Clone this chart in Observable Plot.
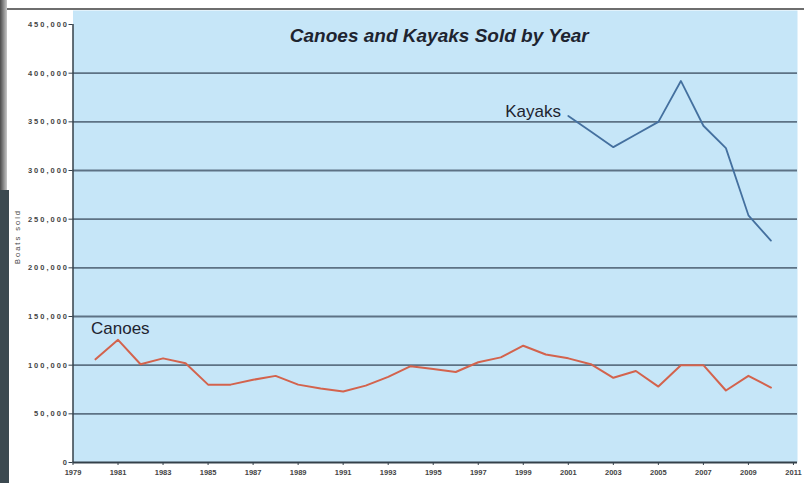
<!DOCTYPE html>
<html>
<head>
<meta charset="utf-8">
<script src="https://cdn.jsdelivr.net/npm/d3@7"></script>
<script src="https://cdn.jsdelivr.net/npm/@observablehq/plot@0.6"></script>
<style>
  body { margin: 0; background: #ffffff; }
  #wrap { position: relative; width: 804px; height: 483px; overflow: hidden; font-family: "Liberation Sans", Arial, sans-serif; }
  #wrap svg { position: absolute; left: 0; top: 0; background: transparent; }
  #wrap svg g[aria-label="y-axis tick label"] text { letter-spacing: 2px; font-weight: bold; }
  #wrap svg g[aria-label="x-axis tick label"] text { font-weight: bold; }
  #wrap svg g[aria-label="y-axis label"] text { letter-spacing: 2px; }
  .topline { position: absolute; left: 6px; right: 0; top: 8px; height: 2px; background: #6e6e6e; }
  .edge1 { position: absolute; left: 0; top: 0; width: 7px; height: 190px; background: linear-gradient(to right, #4a4a4a, #c8c8c8); }
  .edge2 { position: absolute; left: 0; top: 190px; width: 9px; height: 293px; background: #3b4950; }
</style>
</head>
<body>
<div id="wrap"></div>
<script>
// ---- data ----
const canoeYears = [1980, 1981, 1982, 1983, 1984, 1985, 1986, 1987, 1988, 1989,
                    1990, 1991, 1992, 1993, 1994, 1995, 1996, 1997, 1998, 1999,
                    2000, 2001, 2002, 2003, 2004, 2005, 2006, 2007, 2008, 2009, 2010];
const canoesSold = [106000, 126000, 101000, 107000, 102000, 80000, 80000, 85000, 89000, 80000,
                    76000, 73000, 79000, 88000, 99000, 96000, 93000, 103000, 108000, 120000,
                    111000, 107000, 101000, 87000, 94000, 78000, 100000, 100000, 74000, 89000, 77000];
const kayakYears = [2001, 2002, 2003, 2004, 2005, 2006, 2007, 2008, 2009, 2010];
const kayaksSold = [356000, 340000, 324000, 337000, 350000, 392000, 346000, 323000, 254000, 228000];

const xTicks = [1979, 1981, 1983, 1985, 1987, 1989, 1991, 1993, 1995, 1997, 1999, 2001, 2003, 2005, 2007, 2009, 2011];
const yTicks = [0, 50000, 100000, 150000, 200000, 250000, 300000, 350000, 400000, 450000];
const gridValues = [50000, 100000, 150000, 200000, 250000, 300000, 350000, 400000];

const title = "Canoes and Kayaks Sold by Year";
const yLabel = "Boats sold";
const seriesLabels = [
  {name: "Canoes", year: 1979.8, value: 132500},
  {name: "Kayaks", year: 1998.2, value: 354500}
];

const canoes = canoeYears.map((year, i) => ({year, sold: canoesSold[i]}));
const kayaks = kayakYears.map((year, i) => ({year, sold: kayaksSold[i]}));

const chart = Plot.plot({
  width: 804,
  height: 483,
  marginLeft: 72.5,
  marginRight: 7,
  marginTop: 10,
  marginBottom: 21,
  style: {fontFamily: "'Liberation Sans', Arial, sans-serif", background: "transparent"},
  x: {domain: [1979, 2011.18]},
  y: {domain: [0, 464400]},
  marks: [
    Plot.frame({fill: "#c6e6f8", stroke: null}),
    Plot.ruleY(gridValues, {stroke: "#5d7285", strokeWidth: 1.8}),
    Plot.ruleX([1979], {y1: 0, y2: 450000, stroke: "#34404a", strokeWidth: 1.5}),
    Plot.ruleY([0], {stroke: "#34404a", strokeWidth: 2}),
    Plot.axisY({ticks: yTicks, tickFormat: d3.format(","), tickSize: 4, tickPadding: 0,
                fontSize: 7.5, fill: "#444444", stroke: "#34404a",
                label: yLabel, labelAnchor: "center", labelArrow: "none", labelOffset: 58}),
    Plot.axisX({ticks: xTicks, tickFormat: d => String(d), tickSize: 3, tickPadding: 4,
                fontSize: 7.5, fill: "#444444", stroke: "#34404a", label: null}),
    Plot.line(canoes, {x: "year", y: "sold", stroke: "#d3634d", strokeWidth: 2}),
    Plot.line(kayaks, {x: "year", y: "sold", stroke: "#44709f", strokeWidth: 1.8}),
    Plot.text(seriesLabels, {x: "year", y: "value", text: "name", textAnchor: "start",
                             lineAnchor: "bottom", fontSize: 17, fill: "#1e2430"}),
    Plot.text([title], {frameAnchor: "top", dy: 18, dx: 4, fontSize: 19, fontWeight: "bold",
                        fontStyle: "italic", fill: "#1e2430"})
  ]
});

const wrap = document.getElementById("wrap");
wrap.appendChild(chart);
for (const cls of ["topline", "edge1", "edge2"]) {
  const d = document.createElement("div");
  d.className = cls;
  wrap.appendChild(d);
}
</script>
</body>
</html>
